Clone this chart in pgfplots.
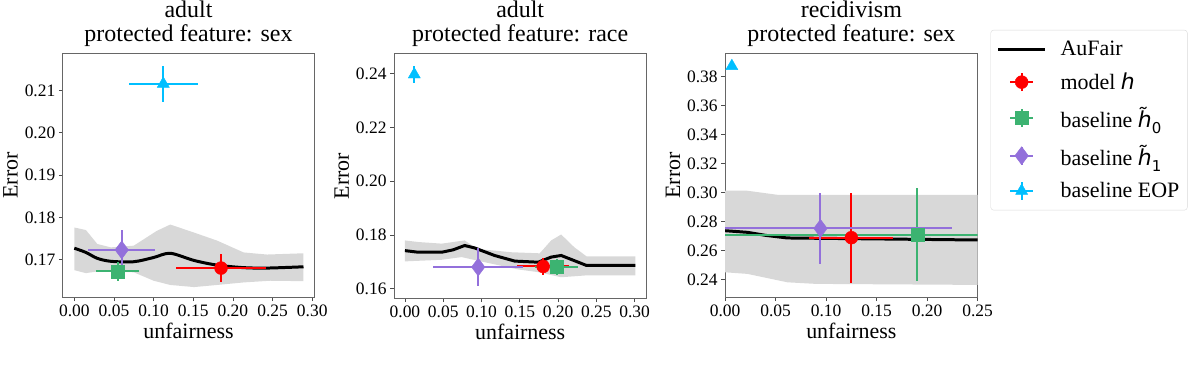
\documentclass[border=0pt]{standalone}
\usepackage{fontspec}
\setmainfont{Liberation Serif}
\newfontfamily\mtsans{DejaVu Sans}
\usepackage{pgfplots}
\pgfplotsset{compat=1.18}
\usepgfplotslibrary{fillbetween}

\definecolor{cRed}{RGB}{255,0,0}
\definecolor{cGreen}{RGB}{60,179,113}
\definecolor{cPurple}{RGB}{147,112,219}
\definecolor{cBlue}{RGB}{0,191,255}
\definecolor{cBand}{RGB}{216,216,216}

\newcommand{\hvar}[1]{{\mtsans\itshape h̃}\raisebox{-0.3em}{\mtsans\fontsize{15}{15}\selectfont #1}}

\pgfplotsset{
  panel/.style={
    scale only axis,
    axis line style={black!60, line width=0.8pt},
    tick align=outside, major tick length=4pt,
    tick style={black!70, line width=0.8pt},
    xtick pos=bottom, ytick pos=left,
    ticklabel style={font=\fontsize{17.5}{18}\selectfont},
    label style={font=\fontsize{22}{24}\selectfont},
    title style={font=\fontsize{24}{24}\selectfont, align=center, inner sep=1pt},
    xlabel={unfairness}, ylabel={Error},
    /pgf/number format/.cd, fixed, fixed zerofill, precision=2, assume math mode=true,
  },
  aufair/.style={black, line width=3pt},
  lineleg/.style={legend image code/.code={\draw[##1] (0pt,0pt) -- (47pt,0pt);}},
  ebar/.style={only marks, color=#1, mark options={fill=#1, draw=#1},
    error bars/x dir=both, error bars/x explicit,
    error bars/y dir=both, error bars/y explicit,
    error bars/error mark=none,
    error bars/error bar style={line width=2pt, #1}},
  ebleg/.style={legend image code/.code={
    \draw[#1, line width=2pt] (12pt,0pt) -- (35pt,0pt);
    \draw[#1, line width=2pt] (23.5pt,-9pt) -- (23.5pt,9pt);
    \draw[##1] plot coordinates {(23.5pt,0pt)};}},
}

\begin{document}
\begin{tikzpicture}

% ---- adult / sex
\begin{axis}[panel, at={(60pt,91pt)}, anchor=south west,
  width=252pt, height=244pt,
  title={adult\\protected feature: sex},
  xmin=-0.0145, xmax=0.3025, ymin=0.1611, ymax=0.2187,
  xtick={0,0.05,0.1,0.15,0.2,0.25,0.3},
  ytick={0.17,0.18,0.19,0.20,0.21}]
\addplot[name path=up, draw=none, forget plot] coordinates {
  (0,0.1776) (0.0146,0.1770) (0.029,0.1737) (0.046,0.1729) (0.075,0.1733) (0.104,0.1768)
  (0.121,0.1783) (0.151,0.1764) (0.180,0.1745) (0.2135,0.1717) (0.243,0.1712) (0.289,0.1715)};
\addplot[name path=lo, draw=none, forget plot] coordinates {
  (0,0.1675) (0.0146,0.1668) (0.029,0.1672) (0.075,0.1670) (0.100,0.1650) (0.121,0.1640)
  (0.151,0.1635) (0.180,0.1640) (0.2135,0.1646) (0.247,0.1650) (0.289,0.1649)};
\addplot[cBand, draw=none, forget plot] fill between[of=up and lo];
\addplot[aufair, smooth] coordinates {
  (0,0.1727) (0.0146,0.1717) (0.029,0.1703) (0.046,0.1696) (0.075,0.1695) (0.100,0.1705)
  (0.121,0.1715) (0.151,0.1698) (0.180,0.1687) (0.2135,0.1681) (0.243,0.1680) (0.289,0.1683)};
\addplot[ebar=cRed, mark=*, mark size=6.5pt] coordinates {(0.185,0.1680) +- (0.057,0.0034)};
\addplot[ebar=cGreen, mark=square*, mark size=6.5pt] coordinates {(0.0545,0.1672) +- (0.027,0.0022)};
\addplot[ebar=cPurple, mark=diamond*, mark size=9pt] coordinates {(0.0598,0.1723) +- (0.042,0.0048)};
\addplot[ebar=cBlue, mark=triangle*, mark size=7pt] coordinates {(0.1122,0.2116) +- (0.0436,0.0043)};
\end{axis}

% ---- adult / race
\begin{axis}[panel, at={(392pt,90pt)}, anchor=south west,
  width=253pt, height=245pt,
  title={adult\\protected feature: race},
  xmin=-0.0143, xmax=0.3153, ymin=0.1565, ymax=0.2474,
  xtick={0,0.05,0.1,0.15,0.2,0.25,0.3},
  ytick={0.16,0.18,0.20,0.22,0.24}]
\addplot[name path=up, draw=none, forget plot] coordinates {
  (0,0.1780) (0.0175,0.1774) (0.048,0.1768) (0.078,0.1780) (0.095,0.1748) (0.139,0.1736)
  (0.176,0.1732) (0.191,0.1780) (0.204,0.1802) (0.221,0.1755) (0.237,0.1721) (0.301,0.1721)};
\addplot[name path=lo, draw=none, forget plot] coordinates {
  (0,0.1702) (0.048,0.1708) (0.074,0.1718) (0.104,0.1699) (0.148,0.1672) (0.174,0.1662)
  (0.204,0.1643) (0.237,0.1650) (0.301,0.1650)};
\addplot[cBand, draw=none, forget plot] fill between[of=up and lo];
\addplot[aufair] coordinates {
  (0,0.1742) (0.0175,0.1736) (0.048,0.1736) (0.063,0.1745) (0.078,0.1761) (0.091,0.1752)
  (0.117,0.1724) (0.1435,0.1703) (0.174,0.1699) (0.191,0.1718) (0.204,0.1724) (0.237,0.1687) (0.301,0.1687)};
\addplot[ebar=cRed, mark=*, mark size=6.5pt] coordinates {(0.1805,0.1683) +- (0.034,0.003)};
\addplot[ebar=cGreen, mark=square*, mark size=6.5pt] coordinates {(0.198,0.1681) +- (0.028,0.003)};
\addplot[ebar=cPurple, mark=diamond*, mark size=9pt] coordinates {(0.0957,0.1681) +- (0.0587,0.0069)};
\addplot[ebar=cBlue, mark=triangle*, mark size=7pt] coordinates {(0.0122,0.2397) +- (0.003,0.003)};
\end{axis}

% ---- recidivism / sex
\begin{axis}[panel, at={(724pt,91pt)}, anchor=south west,
  width=253pt, height=244pt,
  title={recidivism\\protected feature: sex},
  xmin=0, xmax=0.25, ymin=0.2278, ymax=0.3958,
  xtick={0,0.05,0.1,0.15,0.2,0.25},
  ytick={0.24,0.26,0.28,0.30,0.32,0.34,0.36,0.38},
  legend style={at={(1.0514,1.0984)}, anchor=north west,
    draw=black!15, rounded corners=3pt, fill=white,
    font=\fontsize{22}{24}\selectfont, row sep=12pt, column sep=12pt,
    inner xsep=6pt, inner ysep=9pt},
  legend cell align=left]
\addplot[name path=up, draw=none, forget plot] coordinates {
  (0,0.3013) (0.022,0.3013) (0.0517,0.2985) (0.25,0.2985)};
\addplot[name path=lo, draw=none, forget plot] coordinates {
  (0,0.2450) (0.022,0.2439) (0.0616,0.2381) (0.09,0.2370) (0.25,0.2363)};
\addplot[cBand, draw=none, forget plot] fill between[of=up and lo];
\addplot[aufair, lineleg] coordinates {
  (0,0.2737) (0.022,0.2726) (0.04,0.2705) (0.0616,0.2687) (0.25,0.2673)};
\addlegendentry{AuFair}
\addplot[ebar=cRed, mark=*, mark size=6.5pt, ebleg=cRed] coordinates {(0.125,0.2689) +- (0.0416,0.031)};
\addlegendentry{model {\mtsans\itshape h}}
\addplot[ebar=cGreen, mark=square*, mark size=6.5pt, ebleg=cGreen] coordinates {(0.1904,0.2710) +- (0.21,0.032)};
\addlegendentry{baseline \hvar{0}}
\addplot[ebar=cPurple, mark=diamond*, mark size=9pt, ebleg=cPurple] coordinates {(0.0944,0.2753) +- (0.13,0.0245)};
\addlegendentry{baseline \hvar{1}}
\addplot[ebar=cBlue, mark=triangle*, mark size=7pt, ebleg=cBlue] coordinates {(0.0066,0.3873) +- (0.002,0.002)};
\addlegendentry{baseline EOP}
\end{axis}
\path (0pt,0pt) rectangle (1196pt,386pt);
\end{tikzpicture}
\end{document}
